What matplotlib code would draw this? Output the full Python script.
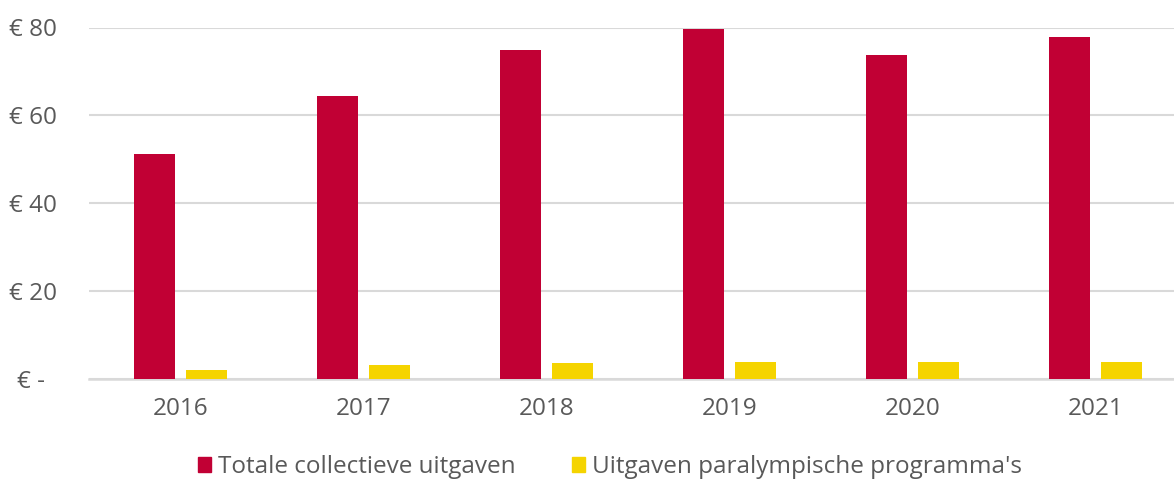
import matplotlib.pyplot as plt
from matplotlib.patches import Patch
import numpy as np

plt.rcParams['font.family'] = ['Open Sans', 'DejaVu Sans']

# data
years = ['2016', '2017', '2018', '2019', '2020', '2021']
totaal = [51.1, 64.4, 74.8, 79.6, 73.7, 77.8]
paralympisch = [1.9, 3.1, 3.5, 3.8, 3.8, 3.7]
y_ticks = [0, 20, 40, 60, 80]
y_labels = ['€ -  ', '€ 20', '€ 40', '€ 60', '€ 80']
series_names = ['Totale collectieve uitgaven', "Uitgaven paralympische programma's"]

RED = '#C10034'
YELLOW = '#F5D400'
TXT = '#595959'
GRID = '#D9D9D9'
FS = 17.5

W, H = 1174, 482
fig = plt.figure(figsize=(W / 100, H / 100), dpi=100)
# plot area in pixels: left 89, y=0 at 378.5, y=80 at 27.5
ax = fig.add_axes([89 / W, (H - 378.5) / H, (W - 89) / W, 351 / H])

x = np.arange(len(years))
bw = 0.224
off = 0.142
ax.bar(x - off, totaal, width=bw, color=RED, zorder=3)
ax.bar(x + off, paralympisch, width=bw, color=YELLOW, zorder=3)

ax.set_xlim(-0.5, -0.5 + (W - 89) / 183)
ax.set_ylim(0, 80)
ax.set_yticks(y_ticks)
ax.set_yticklabels(y_labels)
ax.set_xticks(x)
ax.set_xticklabels(years)

ax.yaxis.grid(True, color=GRID, lw=1.5, zorder=0)
ax.set_axisbelow(True)
for s in ['top', 'right', 'left']:
    ax.spines[s].set_visible(False)
ax.spines['bottom'].set_color(GRID)
ax.spines['bottom'].set_linewidth(1.8)
ax.tick_params(axis='both', length=0, colors=TXT, labelsize=FS)
ax.tick_params(axis='y', pad=23)
ax.tick_params(axis='x', pad=13)

handles = [Patch(color=RED), Patch(color=YELLOW)]
fig.legend(handles, series_names, loc='center', bbox_to_anchor=(610 / W, 1 - 467 / H),
           ncol=2, frameon=False, fontsize=FS, labelcolor=TXT,
           handlelength=0.55, handleheight=0.55, handletextpad=0.3,
           columnspacing=2.3)

fig.savefig('out.png', dpi=100)
